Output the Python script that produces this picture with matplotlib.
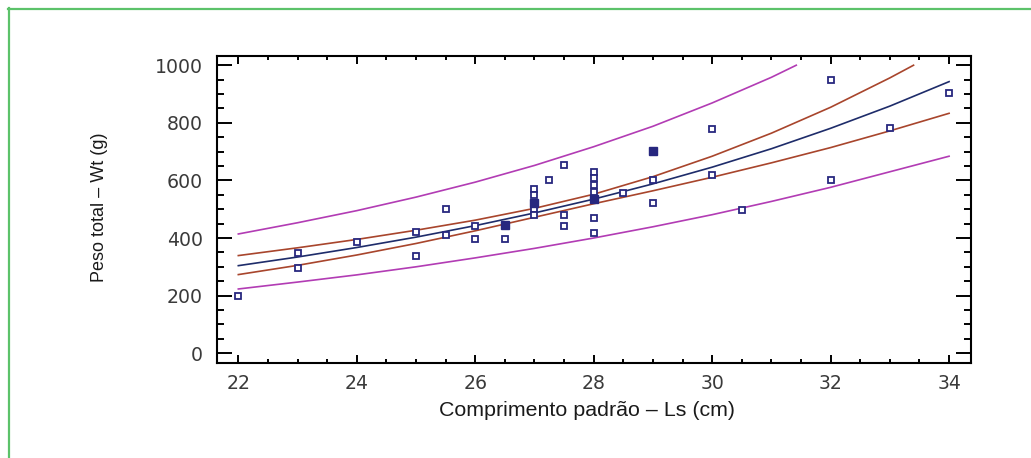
import numpy as np
import matplotlib.pyplot as plt
from matplotlib.lines import Line2D

# observed points (open squares)
ls_open = [22, 23, 23, 24, 25, 25, 25.5, 25.5, 26, 26, 26.5, 27, 27, 27, 27,
           27.25, 27.5, 27.5, 27.5, 28, 28, 28, 28, 28, 28, 28.5, 29, 29,
           30, 30, 30.5, 32, 32, 33, 34]
wt_open = [200, 348, 296, 385, 422, 338, 500, 412, 441, 397, 397, 570, 550, 500, 480,
           603, 653, 480, 442, 630, 607, 584, 560, 470, 419, 558, 602, 521,
           780, 619, 498, 948, 602, 781, 903]
# filled squares
ls_fill = [26.5, 27, 28, 29]
wt_fill = [445, 520, 535, 703]

# fitted curve and bands, read at each cm
x_curve = [22, 23, 24, 25, 26, 27, 28, 29, 30, 31, 32, 33, 34]
fit = [304, 334, 367, 403, 443, 487, 535, 588, 646, 710, 781, 858, 943]
conf_lo = [273, 305, 341, 381, 425, 472, 519, 564, 611, 661, 714, 772, 833]
conf_hi_x = [22, 23, 24, 25, 26, 27, 28, 29, 30, 31, 32, 33, 33.4]
conf_hi = [339, 366, 395, 427, 462, 503, 552, 613, 684, 764, 854, 956, 1000]
pred_lo = [223, 247, 272, 300, 331, 364, 400, 439, 481, 527, 576, 630, 684]
pred_hi_x = [22, 23, 24, 25, 26, 27, 28, 29, 30, 31, 31.42]
pred_hi = [414, 453, 495, 542, 594, 652, 717, 788, 869, 958, 1000]

W, H = 1031, 458
fig = plt.figure(figsize=(W / 100, H / 100), dpi=100)
ax = fig.add_axes([217 / W, 1 - 363 / H, (971 - 217) / W, (363 - 56) / H])

c_fit = '#1e2c6a'
c_conf = '#a8452c'
c_pred = '#b23cb4'
c_mark = '#27277f'

ax.plot(pred_hi_x, pred_hi, color=c_pred, lw=1.2)
ax.plot(x_curve, pred_lo, color=c_pred, lw=1.2)
ax.plot(conf_hi_x, conf_hi, color=c_conf, lw=1.2)
ax.plot(x_curve, conf_lo, color=c_conf, lw=1.2)
ax.plot(x_curve, fit, color=c_fit, lw=1.2)

ax.plot(ls_open, wt_open, ls='none', marker='s', ms=4.5, mfc='white',
        mec=c_mark, mew=1.3)
ax.plot(ls_fill, wt_fill, ls='none', marker='s', ms=5.2, mfc=c_mark,
        mec=c_mark, mew=1.0)

ax.set_xlim(21.64, 34.37)
ax.set_ylim(-34, 1032)
ax.set_xticks(np.arange(22, 35, 2))
ax.set_xticks(np.arange(22, 34.5, 0.5), minor=True)
ax.set_yticks(np.arange(0, 1001, 200))
ax.set_yticks(np.arange(0, 1001, 50), minor=True)

ax.tick_params(which='both', direction='in', top=True, right=True,
               width=1.4, colors='black', labelcolor='#3a3a3a',
               labelsize=13.6)
ax.tick_params(axis='x', which='major', length=6, pad=8)
ax.tick_params(axis='x', which='minor', length=3)
ax.tick_params(axis='y', which='major', length=11, pad=10)
ax.tick_params(axis='y', which='minor', length=5)
for lab in ax.get_xticklabels() + ax.get_yticklabels():
    lab.set_family('DejaVu Sans')
for s in ax.spines.values():
    s.set_linewidth(1.5)

fig.text(587 / W, 1 - 411 / H, 'Comprimento padrão – Ls (cm)',
         ha='center', va='center', fontsize=15.4, family='Liberation Sans',
         color='#1a1a1a')
fig.text(100 / W, 1 - 207 / H, 'Peso total – Wt (g)', rotation=90,
         ha='center', va='center', fontsize=13, family='Liberation Sans',
         color='#1a1a1a')

# green frame (left and top edges)
fig.add_artist(Line2D([8.5 / W, 8.5 / W], [0, 1 - 8 / H], color='#5cc26a',
                      lw=1.6, transform=fig.transFigure))
fig.add_artist(Line2D([8 / W, 1], [1 - 8.5 / H, 1 - 8.5 / H], color='#5cc26a',
                      lw=1.6, transform=fig.transFigure))

fig.savefig('out.png', dpi=100)
